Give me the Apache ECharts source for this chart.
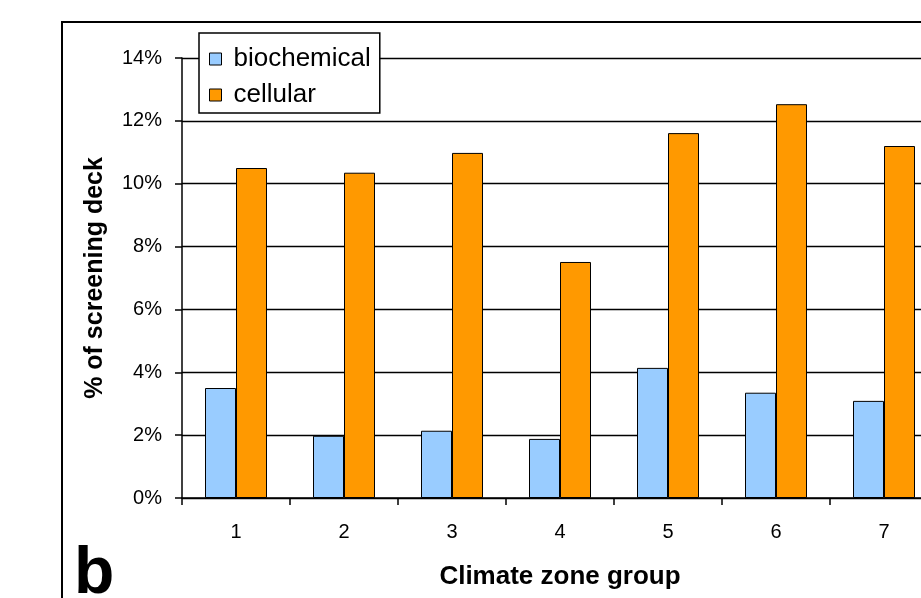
<!DOCTYPE html>
<html><head><meta charset="utf-8">
<script src="https://cdn.jsdelivr.net/npm/echarts@6/dist/echarts.min.js"></script>
<style>html,body{margin:0;padding:0;background:#fff}#c{width:921px;height:598px}</style>
</head><body><div id="c"></div>
<script>
const categories = ['1','2','3','4','5','6','7'];
const biochemical = [3.5, 1.98, 2.14, 1.88, 4.14, 3.35, 3.09];
const cellular = [10.5, 10.35, 10.98, 7.51, 11.61, 12.53, 11.2];
const yTicks = {min: 0, max: 14, interval: 2};
const FONT = '"Liberation Sans", Arial, sans-serif';

const chart = echarts.init(document.getElementById('c'), null, {renderer: 'canvas'});
chart.setOption({
  animation: false,
  backgroundColor: '#fff',
  textStyle: {fontFamily: FONT},
  grid: {left: 182, top: 58, width: 756, height: 440, containLabel: false, outerBoundsMode: 'none'},
  legend: {
    orient: 'vertical', left: 199, top: 33,
    padding: [13, 9, 5, 10], itemGap: 10,
    itemWidth: 12, itemHeight: 12,
    backgroundColor: '#fff', borderColor: '#000', borderWidth: 1.5,
    textStyle: {fontFamily: FONT, fontSize: 26, color: '#000', padding: [0, 0, 0, 7], lineHeight: 26},
    data: [
      {name: 'biochemical', icon: 'rect', itemStyle: {borderColor: '#000', borderWidth: 1}},
      {name: 'cellular', icon: 'rect', itemStyle: {borderColor: '#000', borderWidth: 1}}
    ]
  },
  xAxis: {
    type: 'category', data: categories,
    name: 'Climate zone group', nameLocation: 'middle', nameGap: 66,
    nameTextStyle: {fontFamily: FONT, fontSize: 26, fontWeight: 'bold', color: '#000'},
    axisLine: {lineStyle: {color: '#000', width: 1.5}},
    axisTick: {show: true, length: 7, lineStyle: {color: '#000', width: 1.5}},
    axisLabel: {fontFamily: FONT, fontSize: 20, color: '#000', margin: 24}
  },
  yAxis: {
    type: 'value', min: yTicks.min, max: yTicks.max, interval: yTicks.interval,
    name: '% of screening deck', nameLocation: 'middle', nameGap: 74,
    nameTextStyle: {fontFamily: FONT, fontSize: 25, fontWeight: 'bold', color: '#000'},
    axisLine: {show: true, lineStyle: {color: '#000', width: 1.5}},
    axisTick: {show: true, length: 7, lineStyle: {color: '#000', width: 1.5}},
    axisLabel: {fontFamily: FONT, fontSize: 20, color: '#000', margin: 20, formatter: '{value}%'},
    splitLine: {show: true, lineStyle: {color: '#000', width: 1.3}}
  },
  series: [
    {name: 'biochemical', type: 'bar', data: biochemical, barWidth: 31, barGap: '0%',
     itemStyle: {color: '#99CCFF', borderColor: '#000', borderWidth: 1}},
    {name: 'cellular', type: 'bar', data: cellular, barWidth: 31, barGap: '0%',
     itemStyle: {color: '#FF9900', borderColor: '#000', borderWidth: 1}}
  ],
  graphic: [
    {type: 'rect', z: 100, silent: true,
     shape: {x: 62, y: 22, width: 1000, height: 700},
     style: {fill: 'none', stroke: '#000', lineWidth: 2}},
    {type: 'text', left: 74, top: 542, z: 100,
     style: {text: 'b', fontFamily: FONT, fontSize: 66, fontWeight: 'bold', fill: '#000'}}
  ]
});
</script></body></html>
